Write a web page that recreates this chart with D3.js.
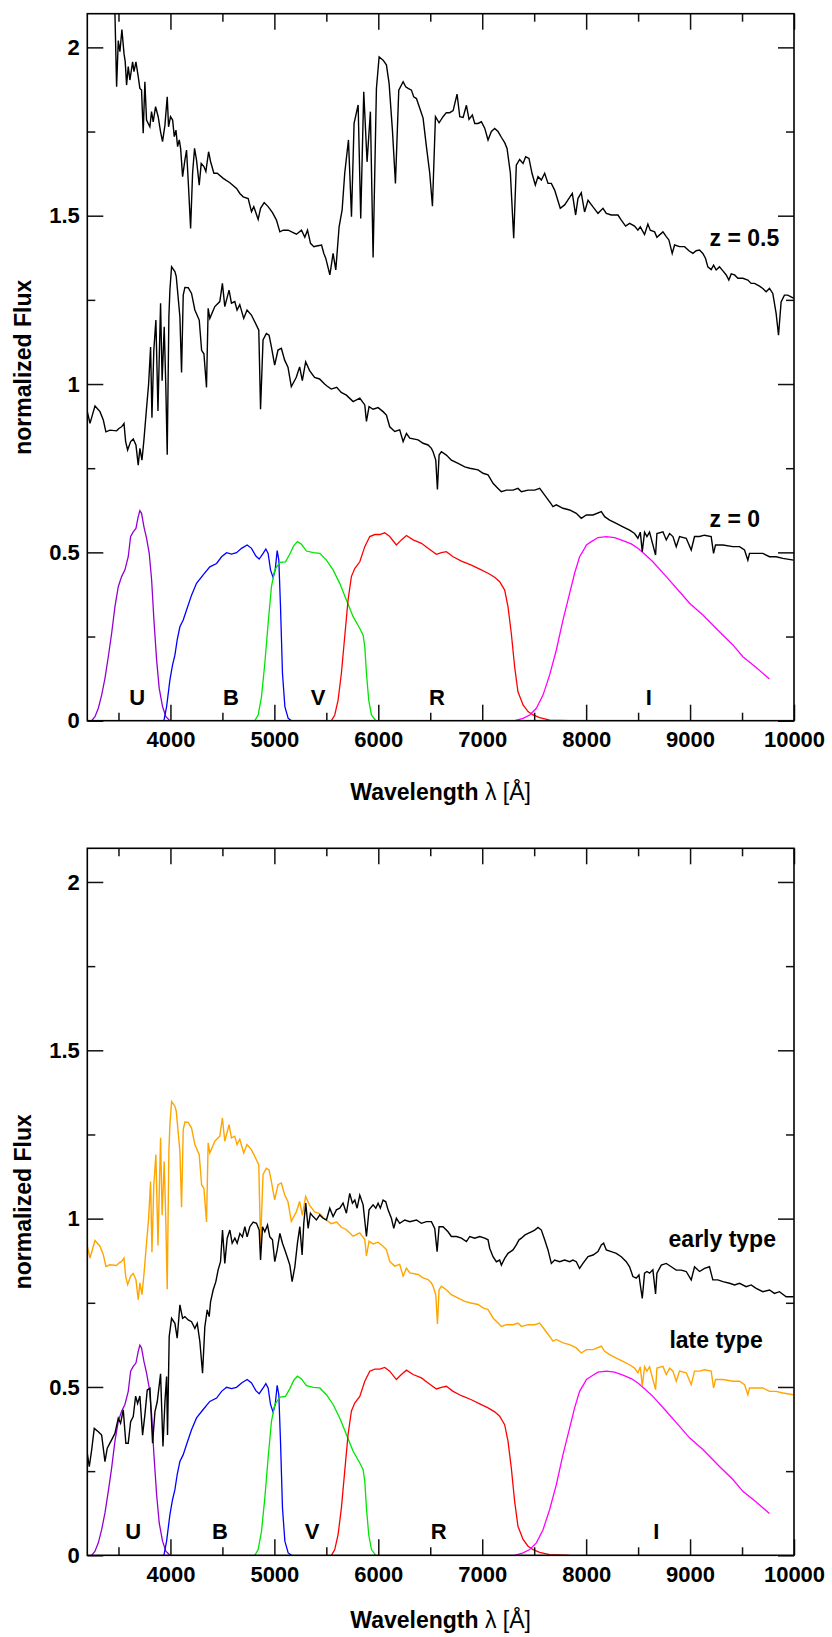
<!DOCTYPE html>
<html><head><meta charset="utf-8">
<script src="https://cdn.jsdelivr.net/npm/d3@7"></script>
<style>
body{margin:0;background:#fff}
text{font-family:"Liberation Sans",Arial,Helvetica,sans-serif}
</style>
</head><body>
<svg id="chart" width="832" height="1637"></svg>
<script>
// ---------------- DATA ----------------
const xMajorTicks = [4000,5000,6000,7000,8000,9000,10000];
const xMinorTicks = [3500,4500,5500,6500,7500,8500,9500];
const yMajorTicks = [0,0.5,1,1.5,2];
const yMinorTicks = [0.25,0.75,1.25,1.75];
const xDomain = [3200,10000];
const yDomain = [0,2.1];

// galaxy spectrum at z = 0 (also the "late type" template) : [wavelength, flux]
const spectrumZ0 = [[3200,0.918],[3226,0.883],[3274,0.935],[3322,0.918],[3354,0.893],[3379,0.858],[3418,0.863],[3482,0.861],[3504,0.868],[3530,0.873],[3553,0.883],[3569,0.829],[3588,0.804],[3617,0.829],[3642,0.837],[3668,0.819],[3690,0.759],[3706,0.809],[3726,0.774],[3745,0.834],[3770,0.928],[3790,1.00],[3809,1.11],[3822,0.90],[3840,1.10],[3860,1.19],[3880,0.92],[3905,1.24],[3920,1.01],[3940,1.17],[3955,1.0],[3969,0.79],[3985,1.20],[3995,1.28],[4011,1.348],[4043,1.334],[4056,1.319],[4091,1.20],[4107,1.034],[4123,1.264],[4139,1.287],[4171,1.286],[4203,1.269],[4235,1.22],[4277,1.19],[4300,1.10],[4322,1.09],[4347,0.99],[4363,1.225],[4379,1.195],[4427,1.23],[4475,1.245],[4500,1.299],[4523,1.23],[4564,1.279],[4587,1.24],[4619,1.245],[4641,1.22],[4667,1.236],[4705,1.195],[4737,1.22],[4779,1.205],[4827,1.175],[4850,1.16],[4867,0.925],[4891,1.131],[4923,1.15],[4949,1.145],[4971,1.111],[5003,1.056],[5035,1.101],[5067,1.106],[5099,1.071],[5131,1.05],[5163,0.992],[5211,1.02],[5243,1.051],[5269,1.01],[5301,1.066],[5339,1.04],[5387,1.02],[5435,1.015],[5483,1.00],[5503,0.995],[5547,0.985],[5600,0.99],[5643,0.975],[5693,0.967],[5758,0.948],[5822,0.958],[5870,0.938],[5886,0.889],[5911,0.933],[5950,0.925],[5998,0.930],[6046,0.918],[6078,0.908],[6110,0.873],[6158,0.859],[6206,0.864],[6239,0.829],[6271,0.853],[6303,0.839],[6383,0.834],[6431,0.824],[6479,0.819],[6511,0.809],[6527,0.799],[6553,0.774],[6569,0.687],[6585,0.789],[6607,0.799],[6655,0.789],[6703,0.774],[6768,0.764],[6832,0.754],[6880,0.750],[6960,0.745],[7008,0.735],[7056,0.730],[7104,0.705],[7152,0.690],[7184,0.680],[7232,0.685],[7296,0.685],[7344,0.690],[7377,0.680],[7441,0.685],[7505,0.685],[7553,0.690],[7601,0.670],[7649,0.650],[7681,0.636],[7713,0.641],[7777,0.631],[7841,0.626],[7905,0.616],[7953,0.601],[8002,0.611],[8066,0.611],[8146,0.621],[8178,0.606],[8226,0.596],[8290,0.586],[8354,0.576],[8418,0.566],[8466,0.556],[8498,0.542],[8521,0.560],[8540,0.502],[8562,0.560],[8585,0.547],[8610,0.560],[8668,0.492],[8681,0.556],[8739,0.561],[8771,0.537],[8803,0.556],[8835,0.547],[8867,0.517],[8899,0.547],[8963,0.542],[9011,0.507],[9043,0.547],[9091,0.547],[9139,0.551],[9203,0.547],[9226,0.497],[9245,0.522],[9316,0.522],[9412,0.517],[9476,0.517],[9524,0.507],[9556,0.477],[9572,0.497],[9636,0.497],[9700,0.497],[9764,0.487],[9828,0.487],[9893,0.482],[9995,0.477]];

// same galaxy observed at z = 0.5
const spectrumZ05 = [[3460,2.2],[3466,2.10],[3482,1.883],[3498,2.02],[3514,1.987],[3533,2.053],[3553,1.982],[3565,1.957],[3578,1.888],[3594,1.943],[3610,1.903],[3636,1.957],[3649,1.928],[3668,1.957],[3690,1.913],[3706,1.878],[3722,1.873],[3738,1.745],[3754,1.898],[3770,1.784],[3786,1.774],[3802,1.764],[3818,1.809],[3834,1.779],[3857,1.824],[3882,1.794],[3905,1.749],[3924,1.72],[3947,1.769],[3969,1.853],[3982,1.764],[4001,1.794],[4021,1.784],[4037,1.735],[4053,1.754],[4069,1.705],[4085,1.725],[4098,1.70],[4117,1.616],[4139,1.665],[4155,1.695],[4174,1.586],[4194,1.462],[4213,1.626],[4232,1.70],[4251,1.665],[4277,1.591],[4296,1.655],[4322,1.646],[4341,1.631],[4367,1.690],[4386,1.661],[4418,1.626],[4450,1.626],[4508,1.611],[4572,1.598],[4636,1.581],[4668,1.566],[4700,1.556],[4748,1.551],[4780,1.512],[4802,1.527],[4844,1.489],[4867,1.522],[4902,1.539],[4940,1.527],[4982,1.509],[5020,1.487],[5053,1.452],[5085,1.457],[5133,1.457],[5181,1.450],[5213,1.445],[5261,1.457],[5293,1.436],[5319,1.457],[5348,1.418],[5380,1.408],[5406,1.410],[5454,1.413],[5476,1.388],[5495,1.373],[5534,1.324],[5565,1.388],[5591,1.339],[5623,1.467],[5652,1.517],[5677,1.626],[5713,1.725],[5742,1.497],[5767,1.774],[5806,1.829],[5831,1.492],[5860,1.868],[5892,1.660],[5924,1.809],[5950,1.376],[5982,1.878],[6008,1.972],[6046,1.962],[6078,1.948],[6104,1.893],[6136,1.754],[6165,1.596],[6197,1.873],[6239,1.898],[6264,1.883],[6287,1.878],[6319,1.873],[6341,1.853],[6367,1.848],[6399,1.819],[6431,1.790],[6463,1.705],[6495,1.626],[6521,1.528],[6550,1.794],[6585,1.776],[6623,1.794],[6655,1.806],[6687,1.806],[6720,1.812],[6758,1.861],[6784,1.794],[6816,1.792],[6848,1.828],[6873,1.786],[6905,1.799],[6928,1.774],[6960,1.774],[6992,1.779],[7024,1.760],[7056,1.725],[7088,1.750],[7120,1.759],[7152,1.750],[7184,1.733],[7216,1.717],[7239,1.700],[7271,1.626],[7303,1.433],[7328,1.650],[7360,1.667],[7393,1.655],[7418,1.675],[7450,1.670],[7479,1.626],[7511,1.591],[7537,1.616],[7569,1.606],[7601,1.626],[7633,1.596],[7665,1.596],[7697,1.576],[7751,1.522],[7793,1.532],[7825,1.547],[7867,1.566],[7899,1.502],[7921,1.551],[7953,1.568],[7985,1.511],[8018,1.546],[8066,1.526],[8114,1.507],[8162,1.522],[8194,1.507],[8242,1.502],[8306,1.502],[8338,1.487],[8380,1.469],[8418,1.477],[8466,1.469],[8498,1.457],[8521,1.467],[8562,1.444],[8594,1.475],[8617,1.457],[8659,1.452],[8681,1.436],[8739,1.452],[8771,1.438],[8796,1.428],[8828,1.388],[8851,1.413],[8899,1.408],[8947,1.408],[8989,1.396],[9027,1.388],[9059,1.396],[9091,1.398],[9123,1.388],[9149,1.373],[9171,1.348],[9203,1.340],[9226,1.353],[9251,1.339],[9283,1.348],[9316,1.336],[9348,1.324],[9373,1.309],[9396,1.327],[9428,1.324],[9460,1.314],[9508,1.314],[9556,1.309],[9588,1.299],[9620,1.299],[9668,1.291],[9700,1.284],[9732,1.274],[9764,1.284],[9796,1.269],[9828,1.210],[9851,1.145],[9876,1.244],[9908,1.264],[9940,1.264],[9995,1.255]];

// early-type template
const spectrumEarly = [[3200,0.303],[3219,0.263],[3242,0.313],[3267,0.377],[3306,0.367],[3338,0.357],[3360,0.303],[3370,0.278],[3392,0.318],[3434,0.343],[3466,0.362],[3498,0.407],[3520,0.392],[3546,0.432],[3571,0.333],[3594,0.333],[3617,0.397],[3642,0.412],[3665,0.473],[3684,0.451],[3706,0.473],[3732,0.357],[3754,0.417],[3777,0.491],[3803,0.496],[3828,0.333],[3851,0.427],[3873,0.456],[3905,0.539],[3928,0.323],[3947,0.456],[3963,0.531],[3972,0.357],[3988,0.650],[4011,0.704],[4043,0.689],[4065,0.645],[4091,0.744],[4117,0.704],[4139,0.709],[4171,0.699],[4203,0.694],[4235,0.674],[4258,0.689],[4283,0.635],[4309,0.541],[4331,0.679],[4354,0.729],[4373,0.709],[4386,0.753],[4411,0.788],[4437,0.813],[4459,0.848],[4482,0.872],[4501,0.966],[4523,0.867],[4546,0.942],[4572,0.966],[4594,0.927],[4620,0.942],[4642,0.927],[4668,0.956],[4693,0.946],[4716,0.976],[4738,0.946],[4764,0.976],[4796,0.99],[4828,0.986],[4854,0.966],[4867,0.877],[4886,0.976],[4908,0.961],[4934,0.981],[4956,0.946],[4982,0.937],[5004,0.872],[5027,0.907],[5053,0.956],[5078,0.927],[5101,0.907],[5123,0.887],[5149,0.862],[5171,0.813],[5197,0.857],[5222,0.927],[5245,0.976],[5267,0.892],[5283,0.986],[5302,1.046],[5325,0.971],[5347,1.016],[5373,1.006],[5405,0.996],[5437,1.011],[5469,1.001],[5501,0.996],[5533,1.031],[5565,1.006],[5597,1.026],[5629,1.031],[5661,1.046],[5693,1.016],[5725,1.075],[5751,1.046],[5774,1.055],[5796,1.031],[5822,1.070],[5854,1.041],[5886,0.947],[5911,1.026],[5950,1.041],[5976,1.031],[5998,1.046],[6020,1.031],[6046,1.055],[6072,1.050],[6094,1.026],[6126,1.001],[6149,0.971],[6174,1.001],[6206,0.986],[6255,0.996],[6303,0.991],[6367,0.996],[6415,0.986],[6463,0.991],[6511,0.991],[6543,0.971],[6566,0.902],[6585,0.976],[6623,0.976],[6671,0.961],[6703,0.947],[6752,0.947],[6800,0.942],[6848,0.932],[6880,0.947],[6928,0.942],[6976,0.947],[7024,0.942],[7056,0.937],[7072,0.912],[7104,0.887],[7136,0.872],[7168,0.877],[7184,0.862],[7216,0.882],[7248,0.897],[7296,0.907],[7328,0.922],[7354,0.937],[7377,0.942],[7409,0.951],[7441,0.956],[7473,0.961],[7505,0.966],[7537,0.974],[7569,0.966],[7601,0.937],[7633,0.907],[7665,0.867],[7697,0.877],[7745,0.872],[7793,0.877],[7841,0.872],[7873,0.877],[7905,0.872],[7937,0.852],[7969,0.867],[8018,0.887],[8066,0.892],[8114,0.902],[8146,0.922],[8168,0.927],[8194,0.907],[8242,0.902],[8290,0.897],[8338,0.887],[8386,0.872],[8418,0.857],[8450,0.828],[8482,0.823],[8508,0.833],[8521,0.803],[8540,0.763],[8562,0.838],[8585,0.843],[8610,0.838],[8642,0.848],[8668,0.776],[8681,0.838],[8723,0.862],[8771,0.867],[8819,0.857],[8867,0.847],[8915,0.847],[8963,0.843],[9011,0.818],[9043,0.857],[9091,0.843],[9139,0.852],[9187,0.857],[9219,0.818],[9267,0.818],[9316,0.813],[9380,0.808],[9428,0.803],[9476,0.808],[9540,0.798],[9588,0.803],[9636,0.793],[9700,0.783],[9764,0.788],[9812,0.778],[9860,0.783],[9925,0.768],[9995,0.768]];

// filter transmission curves
const filterU = [[3242,0],[3274,0.012],[3306,0.037],[3338,0.076],[3370,0.126],[3402,0.190],[3434,0.259],[3466,0.339],[3498,0.398],[3530,0.428],[3562,0.448],[3594,0.487],[3617,0.547],[3642,0.561],[3668,0.571],[3690,0.606],[3706,0.624],[3722,0.616],[3745,0.576],[3770,0.542],[3796,0.497],[3819,0.418],[3841,0.299],[3867,0.180],[3892,0.096],[3924,0.042],[3956,0.012],[3995,0]];
const filterB = [[3937,0],[3963,0.042],[3995,0.121],[4020,0.165],[4043,0.195],[4065,0.240],[4091,0.279],[4123,0.299],[4155,0.329],[4203,0.373],[4251,0.408],[4315,0.433],[4379,0.457],[4444,0.467],[4492,0.487],[4540,0.499],[4588,0.495],[4636,0.499],[4684,0.512],[4738,0.522],[4780,0.512],[4822,0.489],[4854,0.480],[4892,0.497],[4918,0.510],[4940,0.497],[4963,0.448],[4988,0.425],[5008,0.448],[5027,0.505],[5043,0.477],[5059,0.339],[5078,0.141],[5101,0.042],[5133,0.007],[5165,0]];
const filterV = [[4812,0],[4844,0.017],[4876,0.071],[4908,0.170],[4940,0.289],[4972,0.398],[5004,0.448],[5053,0.470],[5107,0.472],[5149,0.495],[5187,0.520],[5222,0.532],[5261,0.524],[5309,0.504],[5374,0.499],[5437,0.497],[5501,0.477],[5565,0.448],[5629,0.408],[5694,0.358],[5758,0.309],[5822,0.274],[5854,0.254],[5870,0.220],[5886,0.141],[5908,0.061],[5934,0.017],[5976,0]];
const filterR = [[5549,0],[5581,0.017],[5613,0.061],[5645,0.141],[5677,0.250],[5709,0.358],[5741,0.428],[5773,0.452],[5822,0.472],[5870,0.517],[5918,0.547],[5966,0.553],[6014,0.553],[6062,0.558],[6110,0.547],[6174,0.522],[6222,0.537],[6271,0.550],[6335,0.537],[6415,0.527],[6479,0.512],[6559,0.494],[6607,0.499],[6655,0.502],[6720,0.487],[6800,0.474],[6896,0.462],[6976,0.450],[7056,0.438],[7120,0.426],[7168,0.413],[7216,0.388],[7248,0.339],[7280,0.259],[7312,0.160],[7344,0.086],[7393,0.047],[7441,0.027],[7489,0.017],[7553,0.009],[7649,0.002],[7841,0]];
const filterI = [[7312,0],[7393,0.007],[7457,0.017],[7521,0.037],[7585,0.076],[7649,0.136],[7713,0.210],[7777,0.299],[7841,0.378],[7889,0.438],[7937,0.487],[7985,0.512],[8002,0.522],[8050,0.532],[8114,0.544],[8194,0.547],[8274,0.544],[8354,0.535],[8434,0.525],[8498,0.512],[8562,0.495],[8642,0.472],[8771,0.428],[8899,0.383],[8995,0.349],[9123,0.314],[9283,0.264],[9412,0.225],[9508,0.190],[9636,0.158],[9764,0.124]];

const filterNames = ["U","B","V","R","I"];
const filterColors = ["#9400d3","#0000ff","#00e600","#ff0000","#ff00ff"];
const filterLabelXTop = [3681,4582,5421,6565,8604];
const filterLabelXBottom = [3642,4476,5364,6582,8675];
const filterLabelY = 0.048;

const topLabels = [{text:"z = 0.5", x:9188, y:1.41},{text:"z = 0", x:9188, y:0.576}];
const bottomLabels = [{text:"early type", x:8793, y:0.917},{text:"late type", x:8801, y:0.615}];

// ---------------- DRAW ----------------
const svg = d3.select("#chart");
const L = 87.3, R = 794, H = 707;
const x = d3.scaleLinear().domain(xDomain).range([L, R]);
const y = d3.scaleLinear().domain(yDomain).range([H, 0]);
const filters = [filterU, filterB, filterV, filterR, filterI];
const line = d3.line().x(d => x(d[0])).y(d => y(d[1]));

svg.append("defs").append("clipPath").attr("id","plotclip")
  .append("rect").attr("x",L).attr("y",0).attr("width",R-L).attr("height",H);

function panel(top, series, labelsX, texts, titleGap) {
  const g = svg.append("g").attr("transform", `translate(0,${top})`);
  const plot = g.append("g").attr("clip-path","url(#plotclip)");

  filters.forEach((f,i) => {
    plot.append("path").datum(f).attr("d", line)
      .attr("fill","none").attr("stroke",filterColors[i]).attr("stroke-width",1.3);
  });
  series.forEach(s => {
    plot.append("path").datum(s.data).attr("d", line)
      .attr("fill","none").attr("stroke", s.color).attr("stroke-width",1.4)
      .attr("stroke-linejoin","miter");
  });

  // axes
  const styleAxis = a => {
    a.select(".domain").remove();
    a.selectAll(".tick line").attr("stroke","#111").attr("stroke-width",1.5);
    a.selectAll("text").attr("font-size",22).attr("font-weight","bold")
      .attr("fill","#000").attr("font-family",'"Liberation Sans",Arial,sans-serif');
  };
  g.append("g").attr("transform",`translate(0,${H})`)
    .call(d3.axisBottom(x).tickValues(xMajorTicks).tickSize(-16).tickPadding(11).tickFormat(d3.format("d")))
    .call(styleAxis);
  g.append("g").attr("transform",`translate(0,${H})`)
    .call(d3.axisBottom(x).tickValues(xMinorTicks).tickSize(-8).tickFormat(""))
    .call(styleAxis);
  g.append("g").call(d3.axisTop(x).tickValues(xMajorTicks).tickSize(-16).tickFormat(""))
    .call(styleAxis);
  g.append("g").call(d3.axisTop(x).tickValues(xMinorTicks).tickSize(-8).tickFormat(""))
    .call(styleAxis);
  g.append("g").attr("transform",`translate(${L},0)`)
    .call(d3.axisLeft(y).tickValues(yMajorTicks).tickSize(-16).tickPadding(7.5).tickFormat(d => String(d)))
    .call(styleAxis);
  g.append("g").attr("transform",`translate(${L},0)`)
    .call(d3.axisLeft(y).tickValues(yMinorTicks).tickSize(-8).tickFormat(""))
    .call(styleAxis);
  g.append("g").attr("transform",`translate(${R},0)`)
    .call(d3.axisRight(y).tickValues(yMajorTicks).tickSize(-16).tickFormat(""))
    .call(styleAxis);
  g.append("g").attr("transform",`translate(${R},0)`)
    .call(d3.axisRight(y).tickValues(yMinorTicks).tickSize(-8).tickFormat(""))
    .call(styleAxis);

  g.append("rect").attr("x",L).attr("y",0).attr("width",R-L).attr("height",H)
    .attr("fill","none").attr("stroke","#000").attr("stroke-width",1.6);

  // filter labels
  filterNames.forEach((n,i) => {
    g.append("text").attr("x", x(labelsX[i])).attr("y", y(filterLabelY))
      .attr("text-anchor","middle").attr("font-size",22).attr("font-weight","bold").text(n);
  });
  texts.forEach(t => {
    g.append("text").attr("x", x(t.x)).attr("y", y(t.y))
      .attr("font-size",23).attr("font-weight","bold").text(t.text);
  });

  // axis titles
  g.append("text").attr("transform","rotate(-90)")
    .attr("x", -H/2).attr("y", 31).attr("text-anchor","middle")
    .attr("font-size",23).attr("font-weight","bold").text("normalized Flux");
  const xt = g.append("text").attr("x", (L+R)/2).attr("y", H + titleGap)
    .attr("text-anchor","middle").attr("font-size",23);
  xt.append("tspan").attr("font-weight","bold").text("Wavelength");
  xt.append("tspan").attr("font-weight","normal").text(" λ [Å]");
}

panel(13.7, [
  {data: spectrumZ05, color: "#000"},
  {data: spectrumZ0, color: "#000"}
], filterLabelXTop, topLabels, 79.5);

panel(848.3, [
  {data: spectrumZ0, color: "#ffa500"},
  {data: spectrumEarly, color: "#000"}
], filterLabelXBottom, bottomLabels, 72.5);
</script>
</body></html>
